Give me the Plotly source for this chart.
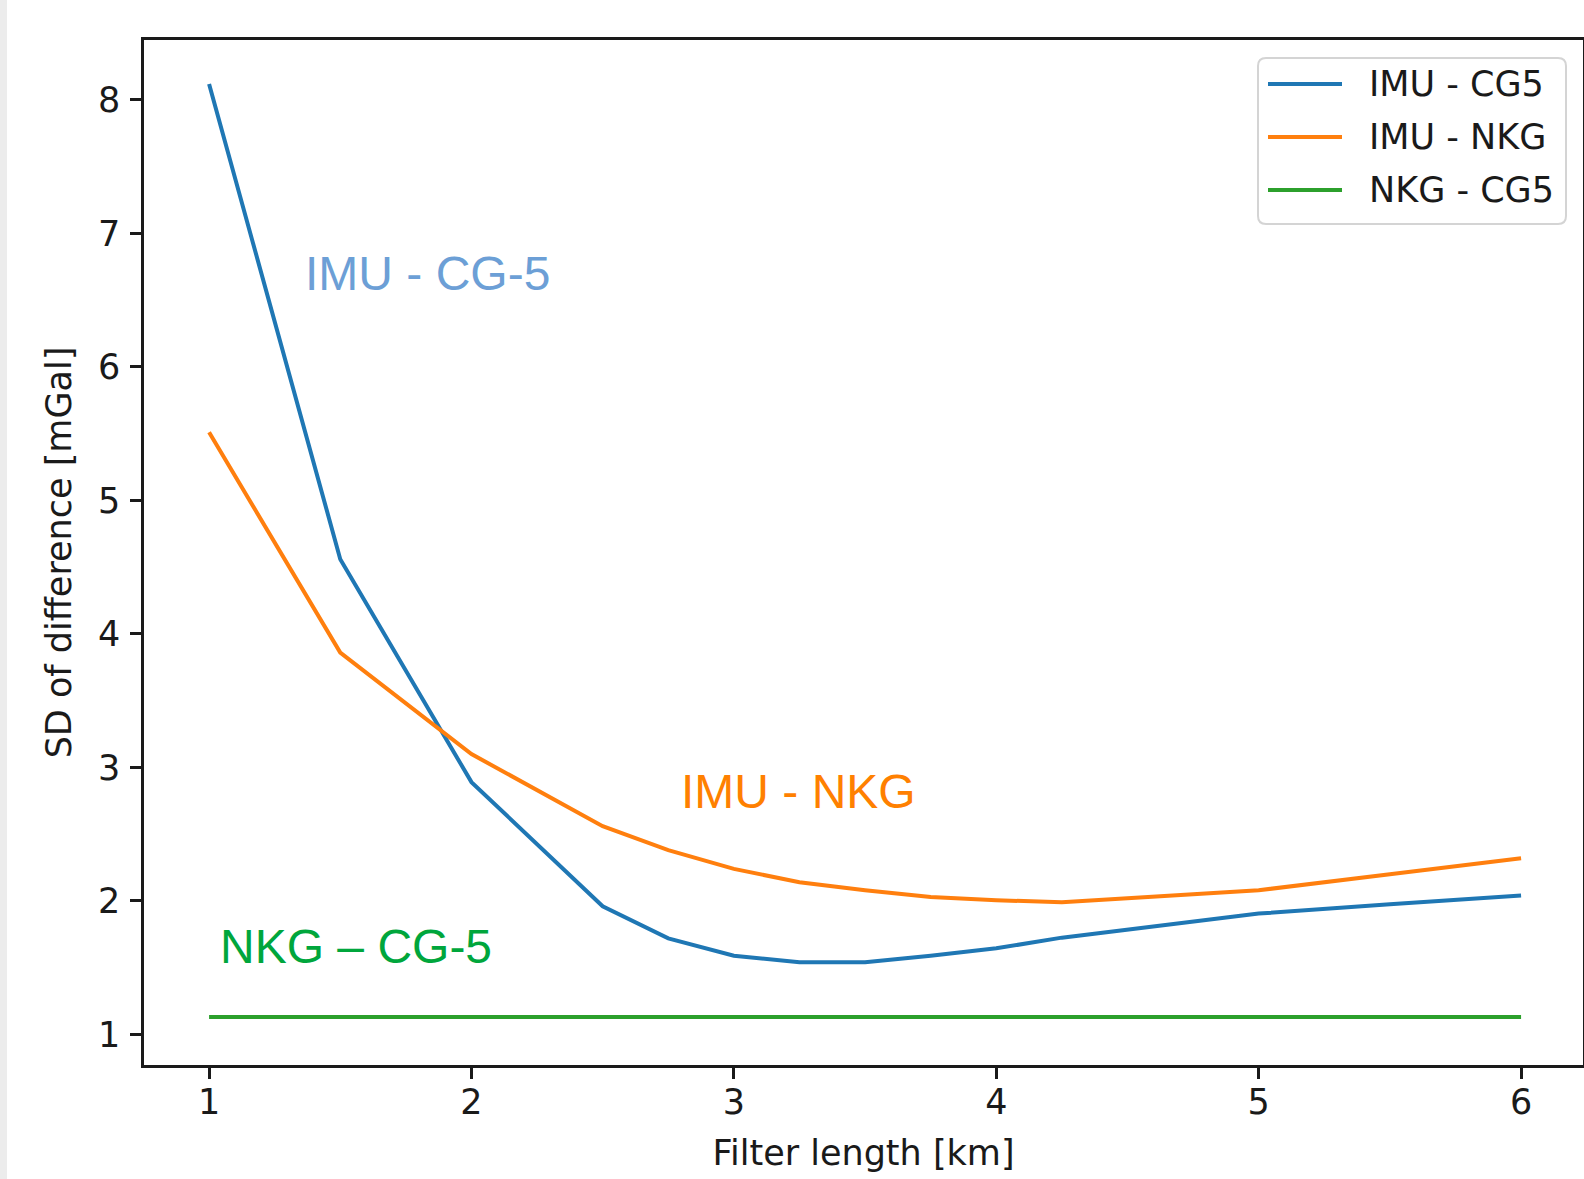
import plotly.graph_objects as go

# ---------------- data ----------------
filter_len = [1.0, 1.5, 2.0, 2.5, 2.75, 3.0, 3.25, 3.5, 3.75, 4.0, 4.25, 4.5, 4.75, 5.0, 5.5, 6.0]
imu_cg5 = [8.12, 4.56, 2.89, 1.96, 1.72, 1.59, 1.54, 1.54, 1.59, 1.645, 1.725, 1.785, 1.85, 1.905, 1.975, 2.04]
imu_nkg = [5.51, 3.86, 3.10, 2.56, 2.38, 2.24, 2.14, 2.08, 2.03, 2.005, 1.99, 2.02, 2.05, 2.08, 2.20, 2.32]
nkg_cg5_x = [1.0, 6.0]
nkg_cg5 = [1.13, 1.13]

series_names = ["IMU - CG5", "IMU - NKG", "NKG - CG5"]
series_colors = ["#1f77b4", "#ff7f0e", "#2ca02c"]

x_ticks = [1, 2, 3, 4, 5, 6]
y_ticks = [1, 2, 3, 4, 5, 6, 7, 8]

labels = ["IMU - CG-5", "IMU - NKG", "NKG \u2013 CG-5"]
label_x = [1.833, 3.245, 1.56]
label_y = [6.70, 2.82, 1.66]
label_colors = ["#6c9fd6", "#ff8000", "#00a63c"]

# ---------------- geometry ----------------
W, H = 1584, 1179
L, R, T, B = 144, 1, 40, 114
PW, PH = W - L - R, H - T - B


def px(xp):
    return (xp - L) / PW


def py(yp):
    return (H - B - yp) / PH


fig = go.Figure()

ys = [imu_cg5, imu_nkg, nkg_cg5]
xs = [filter_len, filter_len, nkg_cg5_x]
for name, xv, yv, c in zip(series_names, xs, ys, series_colors):
    fig.add_trace(go.Scatter(x=xv, y=yv, mode="lines", name=name,
                             line=dict(color=c, width=4), showlegend=False))

tick_font = dict(family="DejaVu Sans", size=35, color="#1a1a1a")

fig.update_layout(
    width=W, height=H,
    margin=dict(l=L, r=R, t=T, b=B, autoexpand=False),
    paper_bgcolor="white", plot_bgcolor="white",
    font=dict(family="DejaVu Sans", size=35, color="#1a1a1a"),
    xaxis=dict(range=[0.752, 6.236], tickvals=x_ticks, ticktext=[str(v) for v in x_ticks],
               showgrid=False, zeroline=False, showline=True, linecolor="#1a1a1a", linewidth=2.5,
               mirror=True, ticks="outside", ticklen=11, tickwidth=2.5, tickcolor="#1a1a1a",
               tickfont=tick_font, ticklabelstandoff=-7,
               title=dict(text="Filter length [km]", font=tick_font, standoff=20)),
    yaxis=dict(range=[0.771, 8.449], tickvals=y_ticks, ticktext=[str(v) for v in y_ticks],
               showgrid=False, zeroline=False, showline=True, linecolor="#1a1a1a", linewidth=2.5,
               mirror=True, ticks="outside", ticklen=11, tickwidth=2.5, tickcolor="#1a1a1a",
               tickfont=tick_font, ticklabelstandoff=3,
               title=dict(text="SD of difference [mGal]", font=tick_font, standoff=16)),
)

# in-plot labels
for t, x, y, c in zip(labels, label_x, label_y, label_colors):
    fig.add_annotation(x=x, y=y, text=t, showarrow=False, xanchor="center", yanchor="middle",
                       font=dict(family="Liberation Sans", size=48, color=c))

# left grey strip
fig.add_shape(type="rect", xref="paper", yref="paper", x0=px(0), x1=px(7), y0=py(H), y1=py(0),
              fillcolor="#ececec", line=dict(width=0), layer="below")

# manual legend box (rounded)
bx0, bx1, by0, by1, r = 1258, 1566, 58, 224, 8
path = (f"M {px(bx0 + r)} {py(by0)} L {px(bx1 - r)} {py(by0)} "
        f"Q {px(bx1)} {py(by0)} {px(bx1)} {py(by0 + r)} L {px(bx1)} {py(by1 - r)} "
        f"Q {px(bx1)} {py(by1)} {px(bx1 - r)} {py(by1)} L {px(bx0 + r)} {py(by1)} "
        f"Q {px(bx0)} {py(by1)} {px(bx0)} {py(by1 - r)} L {px(bx0)} {py(by0 + r)} "
        f"Q {px(bx0)} {py(by0)} {px(bx0 + r)} {py(by0)} Z")
fig.add_shape(type="path", xref="paper", yref="paper", path=path,
              fillcolor="rgba(255,255,255,0.85)", line=dict(color="#d4d4d4", width=2))
entry_y = [84, 137, 190]
for name, c, ey in zip(series_names, series_colors, entry_y):
    fig.add_shape(type="line", xref="paper", yref="paper", x0=px(1268), x1=px(1342),
                  y0=py(ey), y1=py(ey), line=dict(color=c, width=4))
    fig.add_annotation(xref="paper", yref="paper", x=px(1367), y=py(ey), text=name,
                       showarrow=False, xanchor="left", yanchor="middle", font=tick_font)

fig.write_html("out.html", config={"displayModeBar": False},
               post_script="document.body.style.margin='0';document.body.style.overflow='hidden';")
